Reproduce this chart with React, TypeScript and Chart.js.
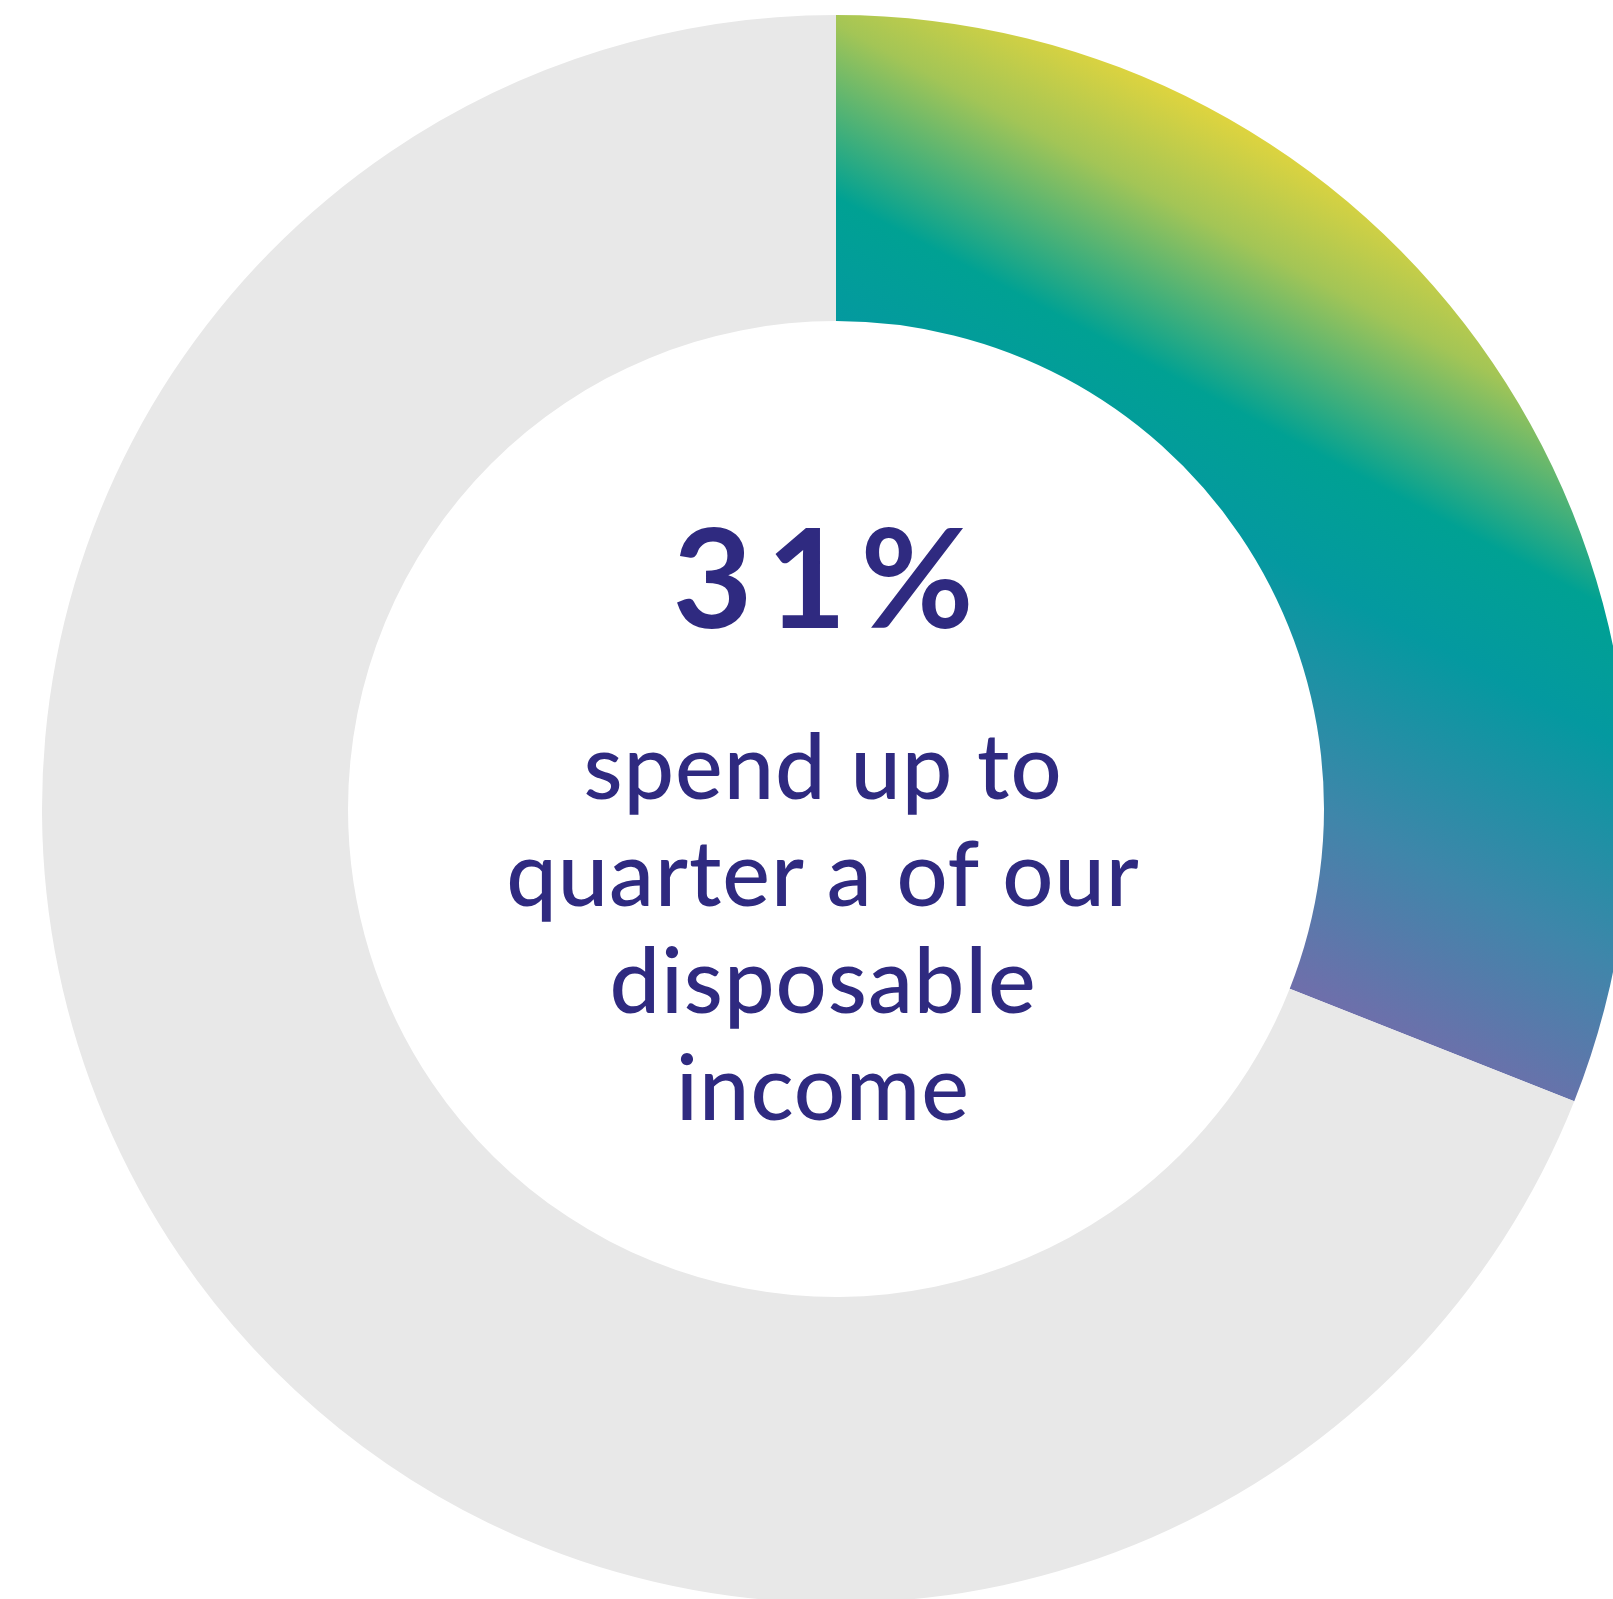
import React, { useEffect, useRef } from "react";
import { Chart, registerables } from "chart.js";

Chart.register(...registerables);

const categories = ["Spend up to a quarter of disposable income", "Others"];
const values = [31, 69];
const headline = "31%";
const captionLines = ["spend up to", "quarter a of our", "disposable", "income"];

const GREY = "#e8e8e8";
const TEXT = "#2f2a80";

export default function App() {
  const ref = useRef<HTMLCanvasElement | null>(null);

  useEffect(() => {
    if (!ref.current) return;
    const chart = new Chart(ref.current, {
      type: "doughnut",
      data: {
        labels: categories,
        datasets: [
          {
            data: values,
            borderWidth: 0,
            backgroundColor: (ctx: any) => {
              if (ctx.dataIndex !== 0) return GREY;
              const c = ctx.chart;
              const area = c.chartArea;
              if (!area) return "#00a193";
              const cx = (area.left + area.right) / 2;
              const cy = (area.top + area.bottom) / 2;
              const g = c.ctx.createLinearGradient(cx + 386, cy - 726, cx + 28, cy - 53);
              g.addColorStop(0, "#efd838");
              g.addColorStop(0.17, "#a3c556");
              g.addColorStop(0.37, "#00a193");
              g.addColorStop(0.52, "#0499a0");
              g.addColorStop(0.78, "#3f86aa");
              g.addColorStop(1, "#6e6fab");
              return g;
            },
          },
        ],
      },
      options: {
        responsive: true,
        maintainAspectRatio: false,
        animation: false,
        cutout: 488,
        rotation: 0,
        layout: { padding: 0 },
        plugins: { legend: { display: false }, tooltip: { enabled: false } },
      },
    });
    return () => chart.destroy();
  }, []);

  return (
    <div
      style={{
        position: "fixed",
        left: 0,
        top: 0,
        width: 1613,
        height: 1599,
        overflow: "hidden",
        background: "#ffffff",
      }}
    >
      <div style={{ position: "absolute", left: 42, top: 15, width: 1588, height: 1588 }}>
        <canvas ref={ref} />
      </div>
      <div
        style={{
          position: "absolute",
          left: 523,
          top: 492,
          width: 600,
          textAlign: "center",
          fontFamily: "Lato, 'Open Sans', sans-serif",
          fontWeight: 700,
          fontSize: 138,
          lineHeight: "1.2",
          color: TEXT,
          letterSpacing: 14,
          paddingLeft: 14,
          boxSizing: "border-box",
        }}
      >
        {headline}
      </div>
      <div
        style={{
          position: "absolute",
          left: 423,
          top: 711,
          width: 800,
          textAlign: "center",
          fontFamily: "Lato, 'Open Sans', sans-serif",
          fontWeight: 500,
          fontSize: 90,
          lineHeight: "107px",
          color: TEXT,
          letterSpacing: 1,
        }}
      >
        {captionLines.map((l, i) => (
          <div key={i}>{l}</div>
        ))}
      </div>
    </div>
  );
}
